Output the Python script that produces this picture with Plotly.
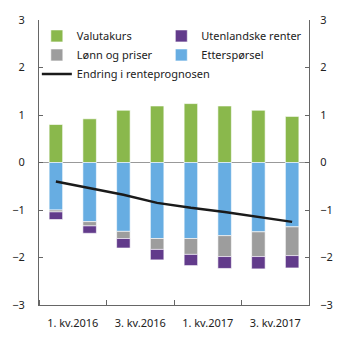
import plotly.graph_objects as go

quarters = ["4. kv.2015", "1. kv.2016", "2. kv.2016", "3. kv.2016",
            "4. kv.2016", "1. kv.2017", "2. kv.2017", "3. kv.2017"]
valutakurs = [0.80, 0.92, 1.10, 1.19, 1.24, 1.19, 1.10, 0.97]
ettersporsel = [-1.00, -1.245, -1.45, -1.60, -1.60, -1.54, -1.46, -1.355]
lonn_priser = [-0.04, -0.09, -0.15, -0.23, -0.335, -0.44, -0.52, -0.605]
utenlandske = [-0.16, -0.155, -0.20, -0.22, -0.235, -0.25, -0.26, -0.26]
endring = [-0.40, -0.54, -0.68, -0.85, -0.955, -1.04, -1.14, -1.25]

tick_labels = ["1. kv.2016", "3. kv.2016", "1. kv.2017", "3. kv.2017"]
tick_pos = [0.5, 2.5, 4.5, 6.5]

x = list(range(len(quarters)))

GREEN = "#8ab84c"
PURPLE = "#623b8b"
GRAY = "#9d9d9d"
BLUE = "#67ade2"
edge = dict(color="rgba(255,255,255,0.6)", width=1)

fig = go.Figure()
fig.add_bar(x=x, y=valutakurs, name="Valutakurs", marker=dict(color=GREEN, line=edge),
            width=0.4, legend="legend", legendrank=1)
fig.add_bar(x=x, y=ettersporsel, name="Etterspørsel", marker=dict(color=BLUE, line=edge),
            width=0.4, legend="legend2", legendrank=2)
fig.add_bar(x=x, y=lonn_priser, name="Lønn og priser", marker=dict(color=GRAY, line=edge),
            width=0.4, legend="legend", legendrank=2)
fig.add_bar(x=x, y=utenlandske, name="Utenlandske renter", marker=dict(color=PURPLE, line=edge),
            width=0.4, legend="legend2", legendrank=1)
fig.add_scatter(x=x, y=endring, name="Endring i renteprognosen", mode="lines",
                line=dict(color="#1a1a1a", width=2.5), legend="legend", legendrank=3)
fig.add_scatter(x=x, y=endring, yaxis="y2", mode="lines", showlegend=False,
                line=dict(width=0), hoverinfo="skip", opacity=0)

axis_col = "#666666"
leg_common = dict(orientation="v", yanchor="top", xanchor="left", traceorder="normal",
                  bgcolor="rgba(0,0,0,0)", font=dict(size=11), itemwidth=30)
fig.update_layout(
    width=345, height=345,
    margin=dict(l=34, r=35, t=18, b=40),
    barmode="relative",
    plot_bgcolor="white", paper_bgcolor="white",
    font=dict(family="Noto Sans", size=11, color="#222222"),
    showlegend=True,
    legend=dict(x=-0.008, y=0.995, **leg_common),
    legend2=dict(x=0.453, y=0.995, **leg_common),
    xaxis=dict(range=[-0.5, 7.5], tickmode="array", tickvals=tick_pos, ticktext=tick_labels,
               ticks="", showline=True, linecolor=axis_col, linewidth=1, showgrid=False,
               zeroline=False, ticklabelstandoff=8,
               minor=dict(tickmode="linear", tick0=-0.5, dtick=2, ticks="inside",
                          ticklen=5, tickcolor=axis_col, showgrid=False)),
    yaxis=dict(range=[-3, 3], tickmode="linear", tick0=-3, dtick=1, ticks="inside",
               ticklen=4, tickcolor=axis_col, showline=True, linecolor=axis_col,
               linewidth=1, showgrid=False, zeroline=True, zerolinecolor="#999999",
               zerolinewidth=1, ticklabelstandoff=11),
    yaxis2=dict(range=[-3, 3], tickmode="linear", tick0=-3, dtick=1, ticks="inside",
                ticklen=4, tickcolor=axis_col, showline=True, linecolor=axis_col,
                linewidth=1, showgrid=False, zeroline=False, overlaying="y",
                side="right", ticklabelstandoff=8),
)

fig.write_html("out.html")
